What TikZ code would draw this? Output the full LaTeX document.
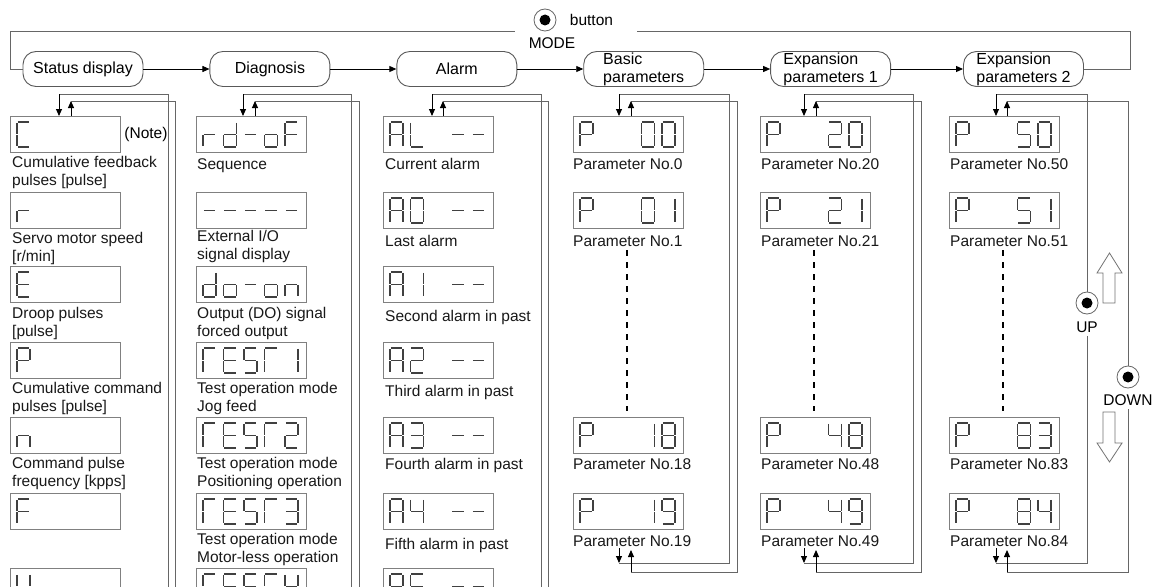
\documentclass[tikz,border=0pt]{standalone}
\usepackage{fontspec}
\setmainfont{Liberation Sans}
\usetikzlibrary{arrows.meta,positioning}

% seven segment glyphs, segments a b c d e f g
\newcommand{\defglyph}[2]{\expandafter\def\csname sg#1\endcsname{#2}}
\defglyph{x}{0000000}
\defglyph{-}{0000001}
\defglyph{0}{1111110}
\defglyph{1}{0110000}
\defglyph{2}{1101101}
\defglyph{3}{1111001}
\defglyph{4}{0110011}
\defglyph{5}{1011011}
\defglyph{8}{1111111}
\defglyph{9}{1111011}
\defglyph{A}{1110111}
\defglyph{C}{1001110}
\defglyph{E}{1001111}
\defglyph{F}{1000111}
\defglyph{L}{0001110}
\defglyph{P}{1100111}
\defglyph{S}{1011011}
\defglyph{T}{1000110}
\defglyph{U}{0111110}
\defglyph{d}{0111101}
\defglyph{n}{0010101}
\defglyph{o}{0011101}
\defglyph{r}{0000101}

\newcommand{\segbits}[7]{%
  \ifnum#1=1 \draw[seg] (0.8,0) -- (12.2,0);\fi
  \ifnum#2=1 \draw[seg] (13,0.8) -- (13,11.8);\fi
  \ifnum#3=1 \draw[seg] (13,13.2) -- (13,24.2);\fi
  \ifnum#4=1 \draw[seg] (0.8,25) -- (12.2,25);\fi
  \ifnum#5=1 \draw[seg] (0,13.2) -- (0,24.2);\fi
  \ifnum#6=1 \draw[seg] (0,0.8) -- (0,11.8);\fi
  \ifnum#7=1 \draw[seg] (0.8,12.5) -- (12.2,12.5);\fi}
\newcommand{\glyph}[1]{\expandafter\expandafter\expandafter\segbits\csname sg#1\endcsname}
% glyphs into a display box
\newcommand{\lcd}[2]{%
  \foreach \gl [count=\i from 0] in {#2}{%
    \begin{scope}[shift={(#1.north west)},shift={(7+20.5*\i,6)}]\glyph{\gl}\end{scope}}}

\begin{document}
\begin{tikzpicture}[x=1pt,y=-1pt,
  font=\fontsize{15.5}{18}\selectfont,
  mode/.style={draw=black!65, line width=0.9pt, rounded corners=13pt, minimum width=120pt, minimum height=35pt, inner sep=1pt, align=left, font=\fontsize{16}{18}\selectfont},
  lcd/.style={draw=black!50, line width=0.9pt, minimum width=110pt, minimum height=36pt, inner sep=0pt, anchor=north west},
  seg/.style={line width=1.3pt, black!75},
  lbl/.style={inner sep=0pt, align=left, text=black!90},
  loopline/.style={black!60, line width=0.8pt},
  flow/.style={-{Triangle[length=7pt,width=6pt]}, line width=0.9pt},
  vgap/.style={dash pattern=on 6pt off 6pt, line width=1.2pt},
  btn/.style={circle, draw=black!60, line width=0.8pt, minimum size=22pt, inner sep=0pt, path picture={\fill (path picture bounding box.center) circle (5.5pt);}},
  hollow/.style={draw=black!55, line width=0.8pt, fill=white}]
\useasboundingbox (0,0) rectangle (1166,586);
\fill[white] (0,0) rectangle (1166,586);
\clip (0,0) rectangle (1166,586);

% MODE button and mode sequence
\node[btn] (modebtn) at (545,20) {};
\node[right=10pt of modebtn] {button};
\node at (552,43) {MODE};
\node[mode] (st) at (83,69) {Status display};
\node[mode, right=66pt of st] (dg) {Diagnosis};
\node[mode, right=66pt of dg] (al) {Alarm};
\node[mode, right=66pt of al] (bp) {Basic\\parameters};
\node[mode, right=66pt of bp] (ea) {Expansion\\parameters 1};
\node[mode, right=72pt of ea] (eb) {Expansion\\parameters 2};
\draw[flow] (st) -- (dg);
\draw[flow] (dg) -- (al);
\draw[flow] (al) -- (bp);
\draw[flow] (bp) -- (ea);
\draw[flow] (ea) -- (eb);
\draw[loopline] (st.west) -- (10,69) |- (515,31);
\draw[loopline] (637,31) -| (1130,69) -- (eb.east);

% Status display
\node[lcd] (st1) at (10,116) {};
\lcd{st1}{C}
\node[right=0pt of st1] {(Note)};
\node[lbl, below right=3.5pt and 2pt of st1.south west] {Cumulative feedback\\pulses [pulse]};
\node[lcd] (st2) at (10,192) {};
\lcd{st2}{r}
\node[lbl, below right=3.5pt and 2pt of st2.south west] {Servo motor speed\\{[r/min]}};
\node[lcd] (st3) at (10,266) {};
\lcd{st3}{E}
\node[lbl, below right=4pt and 2pt of st3.south west] {Droop pulses\\{[pulse]}};
\node[lcd] (st4) at (10,342) {};
\lcd{st4}{P}
\node[lbl, below right=3.5pt and 2pt of st4.south west] {Cumulative command\\pulses [pulse]};
\node[lcd] (st5) at (10,417) {};
\lcd{st5}{n}
\node[lbl, below right=3.5pt and 2pt of st5.south west] {Command pulse\\frequency [kpps]};
\node[lcd] (st6) at (10,493) {};
\lcd{st6}{F}
\node[lcd] (st7) at (10,568) {};
\lcd{st7}{U}
\draw[loopline] (168,590) |- (59,94);
\draw[flow] (59,94) -- (59,0 |- st1.north);
\draw[flow] (71,0 |- st1.north) -- (71,101);
\draw[loopline] (71,101) -| (175,590);

% Diagnosis
\node[lcd] (dg1) at (196,116) {};
\lcd{dg1}{r,d,-,o,F}
\node[lbl, below right=5.5pt and 1pt of dg1.south west] {Sequence};
\node[lcd] (dg2) at (196,192) {};
\lcd{dg2}{-,-,-,-,-}
\node[lbl, below right=1pt and 1pt of dg2.south west] {External I/O\\signal display};
\node[lcd] (dg3) at (196,266) {};
\lcd{dg3}{d,o,-,o,n}
\node[lbl, below right=4pt and 1pt of dg3.south west] {Output (DO) signal\\forced output};
\node[lcd] (dg4) at (196,342) {};
\lcd{dg4}{T,E,S,T,1}
\node[lbl, below right=3.5pt and 1pt of dg4.south west] {Test operation mode\\Jog feed};
\node[lcd] (dg5) at (196,417) {};
\lcd{dg5}{T,E,S,T,2}
\node[lbl, below right=3.5pt and 1pt of dg5.south west] {Test operation mode\\Positioning operation};
\node[lcd] (dg6) at (196,493) {};
\lcd{dg6}{T,E,S,T,3}
\node[lbl, below right=3.5pt and 1pt of dg6.south west] {Test operation mode\\Motor-less operation};
\node[lcd] (dg7) at (196,568) {};
\lcd{dg7}{T,E,S,T,4}
\draw[loopline] (351,590) |- (243,94);
\draw[flow] (243,94) -- (243,0 |- dg1.north);
\draw[flow] (255,0 |- dg1.north) -- (255,101);
\draw[loopline] (255,101) -| (359,590);

% Alarm
\node[lcd] (al1) at (383,116) {};
\lcd{al1}{A,L,x,-,-}
\node[lbl, below right=5.5pt and 2pt of al1.south west] {Current alarm};
\node[lcd] (al2) at (383,192) {};
\lcd{al2}{A,0,x,-,-}
\node[lbl, below right=6.5pt and 2pt of al2.south west] {Last alarm};
\node[lcd] (al3) at (383,266) {};
\lcd{al3}{A,1,x,-,-}
\node[lbl, below right=7.5pt and 2pt of al3.south west] {Second alarm in past};
\node[lcd] (al4) at (383,342) {};
\lcd{al4}{A,2,x,-,-}
\node[lbl, below right=6.5pt and 2pt of al4.south west] {Third alarm in past};
\node[lcd] (al5) at (383,417) {};
\lcd{al5}{A,3,x,-,-}
\node[lbl, below right=4.5pt and 2pt of al5.south west] {Fourth alarm in past};
\node[lcd] (al6) at (383,493) {};
\lcd{al6}{A,4,x,-,-}
\node[lbl, below right=8.5pt and 2pt of al6.south west] {Fifth alarm in past};
\node[lcd] (al7) at (383,568) {};
\lcd{al7}{A,5,x,-,-}
\draw[loopline] (541,590) |- (432,94);
\draw[flow] (432,94) -- (432,0 |- al1.north);
\draw[flow] (443,0 |- al1.north) -- (443,101);
\draw[loopline] (443,101) -| (548,590);

% Basic parameters
\node[lcd] (bp1) at (573,116) {};
\lcd{bp1}{P,x,x,0,0}
\node[lbl, below right=5.5pt and 0pt of bp1.south west] {Parameter No.0};
\node[lcd] (bp2) at (573,192) {};
\lcd{bp2}{P,x,x,0,1}
\node[lbl, below right=6.5pt and 0pt of bp2.south west] {Parameter No.1};
\node[lcd] (bp3) at (573,417) {};
\lcd{bp3}{P,x,x,1,8}
\node[lbl, below right=4.5pt and 0pt of bp3.south west] {Parameter No.18};
\node[lcd] (bp4) at (573,493) {};
\lcd{bp4}{P,x,x,1,9}
\node[lbl, below right=5.5pt and 0pt of bp4.south west] {Parameter No.19};
\draw[vgap] (627,250) -- (627,411);
\draw[loopline] (619,94) -| (729,563) -- (619,563);
\draw[loopline] (631,101) -| (737,572) -- (631,572);
\draw[flow] (619,94) -- (619,0 |- bp1.north);
\draw[flow] (631,0 |- bp1.north) -- (631,101);
\draw[flow] (619,548) -- (619,563);
\draw[flow] (631,572) -- (631,550);

% Expansion parameters 1
\node[lcd] (ea1) at (760,116) {};
\lcd{ea1}{P,x,x,2,0}
\node[lbl, below right=5.5pt and 1pt of ea1.south west] {Parameter No.20};
\node[lcd] (ea2) at (760,192) {};
\lcd{ea2}{P,x,x,2,1}
\node[lbl, below right=6.5pt and 1pt of ea2.south west] {Parameter No.21};
\node[lcd] (ea3) at (760,417) {};
\lcd{ea3}{P,x,x,4,8}
\node[lbl, below right=4.5pt and 1pt of ea3.south west] {Parameter No.48};
\node[lcd] (ea4) at (760,493) {};
\lcd{ea4}{P,x,x,4,9}
\node[lbl, below right=5.5pt and 1pt of ea4.south west] {Parameter No.49};
\draw[vgap] (814,250) -- (814,411);
\draw[loopline] (804,94) -| (913,563) -- (804,563);
\draw[loopline] (816,101) -| (921,572) -- (816,572);
\draw[flow] (804,94) -- (804,0 |- ea1.north);
\draw[flow] (816,0 |- ea1.north) -- (816,101);
\draw[flow] (804,548) -- (804,563);
\draw[flow] (816,572) -- (816,550);

% Expansion parameters 2
\node[lcd] (eb1) at (949,116) {};
\lcd{eb1}{P,x,x,5,0}
\node[lbl, below right=5.5pt and 1pt of eb1.south west] {Parameter No.50};
\node[lcd] (eb2) at (949,192) {};
\lcd{eb2}{P,x,x,5,1}
\node[lbl, below right=6.5pt and 1pt of eb2.south west] {Parameter No.51};
\node[lcd] (eb3) at (949,417) {};
\lcd{eb3}{P,x,x,8,3}
\node[lbl, below right=4.5pt and 1pt of eb3.south west] {Parameter No.83};
\node[lcd] (eb4) at (949,493) {};
\lcd{eb4}{P,x,x,8,4}
\node[lbl, below right=5.5pt and 1pt of eb4.south west] {Parameter No.84};
\draw[vgap] (1003,250) -- (1003,411);

% UP and DOWN buttons
\node[btn] (up) at (1087,303) {};
\node (uplbl) at (1087,327) {UP};
\node[btn] (down) at (1128,377) {};
\node (downlbl) at (1128,400) {DOWN};
\draw[loopline] (996,94) -| (up.north);
\draw[loopline] (uplbl.south) |- (996,563);
\draw[loopline] (1007,101) -| (down.north);
\draw[loopline] (downlbl.south) |- (1007,572);
\draw[flow] (996,94) -- (996,0 |- eb1.north);
\draw[flow] (1007,0 |- eb1.north) -- (1007,101);
\draw[flow] (996,548) -- (996,563);
\draw[flow] (1007,572) -- (1007,550);
\draw[hollow] (1103,303) -- (1103,273) -- (1097,273) -- (1109.5,253) -- (1122,273) -- (1115,273) -- (1115,303) -- cycle;
\draw[hollow] (1103,412) -- (1103,443) -- (1097,443) -- (1109.5,462) -- (1122,443) -- (1115,443) -- (1115,412) -- cycle;
\end{tikzpicture}
\end{document}
